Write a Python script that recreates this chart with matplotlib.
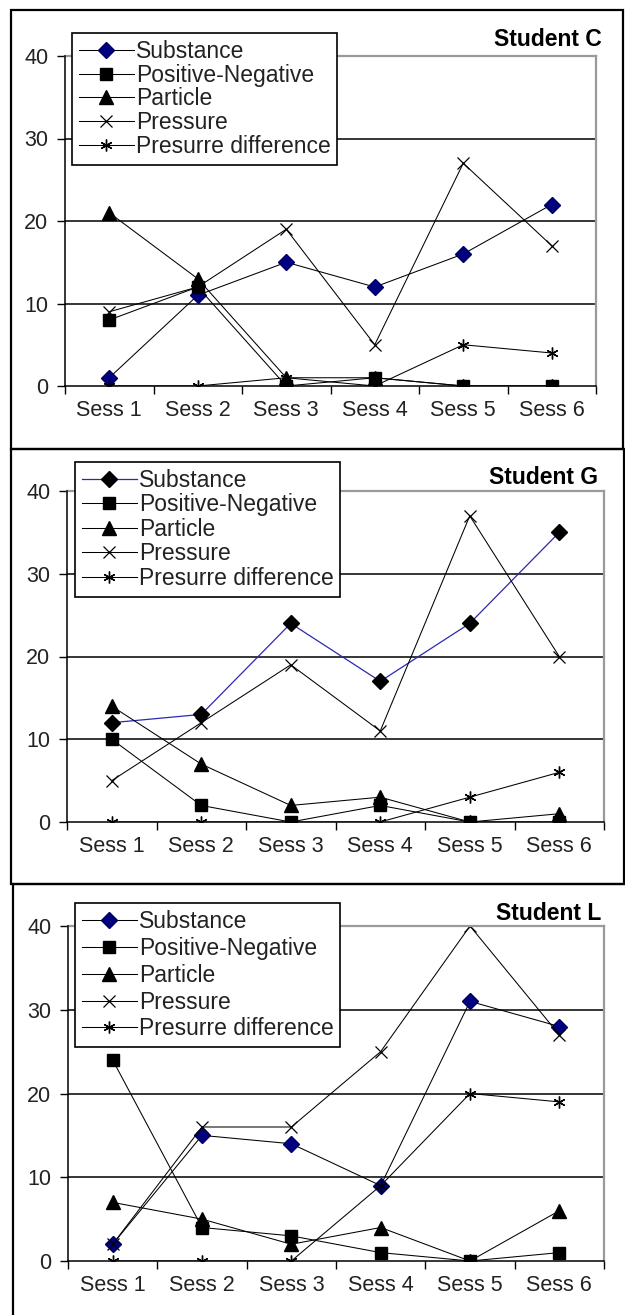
import matplotlib.pyplot as plt
from matplotlib.patches import Rectangle
import numpy as np

plt.rcParams['font.family'] = ['Liberation Sans', 'DejaVu Sans']

W, H = 625, 1315

sessions = ['Sess 1', 'Sess 2', 'Sess 3', 'Sess 4', 'Sess 5', 'Sess 6']
names = ['Substance', 'Positive-Negative', 'Particle', 'Pressure', 'Presurre difference']

# Student C
c_substance = [1, 11, 15, 12, 16, 22]
c_posneg = [8, 12, 0, 1, 0, 0]
c_particle = [21, 13, 1, 1, 0, 0]
c_pressure = [9, 12, 19, 5, 27, 17]
c_pdiff = [0, 0, 1, 0, 5, 4]

# Student G
g_substance = [12, 13, 24, 17, 24, 35]
g_posneg = [10, 2, 0, 2, 0, 0]
g_particle = [14, 7, 2, 3, 0, 1]
g_pressure = [5, 12, 19, 11, 37, 20]
g_pdiff = [0, 0, 0, 0, 3, 6]

# Student L
l_substance = [2, 15, 14, 9, 31, 28]
l_posneg = [24, 4, 3, 1, 0, 1]
l_particle = [7, 5, 2, 4, 0, 6]
l_pressure = [2, 16, 16, 25, 40, 27]
l_pdiff = [0, 0, 0, 9, 20, 19]

fig = plt.figure(figsize=(W / 100, H / 100), dpi=100)


def px_rect(x0, y0, x1, y1):
    return [x0 / W, 1 - y1 / H, (x1 - x0) / W, (y1 - y0) / H]


def panel(plot_box, legend_xy, title, title_xy, data, blue_line=False, lspace=0.2):
    ax = fig.add_axes(px_rect(*plot_box))
    x = np.arange(1, 7)
    subs, pn, part, pres, pdiff = data
    if blue_line:
        ax.plot(x, subs, color='#2a2ab0', lw=0.9, marker='D', ms=8.5,
                mfc='black', mec='black', label=names[0])
    else:
        ax.plot(x, subs, color='black', lw=0.75, marker='D', ms=8.5,
                mfc='#000080', mec='#000060', label=names[0])
    ax.plot(x, pn, color='black', lw=0.75, marker='s', ms=8.5, label=names[1])
    ax.plot(x, part, color='black', lw=0.75, marker='^', ms=9.5, label=names[2])
    ax.plot(x, pres, color='black', lw=0.75, marker='x', ms=8, mew=0.9, label=names[3])
    ax.plot(x, pdiff, color='black', lw=0.75, marker=(6, 2, 0), ms=8.5, mew=1.0,
            label=names[4])

    ax.set_xlim(0.5, 6.5)
    ax.set_ylim(0, 40)
    ax.set_xticks(x)
    ax.set_xticklabels(sessions, fontsize=15.5, color='#222222')
    ax.set_xticks(np.arange(0.5, 7, 1), minor=True)
    ax.tick_params(axis='x', which='major', length=0, pad=10)
    ax.tick_params(axis='x', which='minor', length=6, width=1, direction='out')
    ax.set_yticks([0, 10, 20, 30, 40])
    ax.tick_params(axis='y', length=6, width=1, direction='out', pad=6,
                   labelsize=15.5, labelcolor='#222222')
    for yv in [10, 20, 30]:
        ax.axhline(yv, color='black', lw=1.1, zorder=0)
    for s in ['left', 'bottom']:
        ax.spines[s].set_color('black')
        ax.spines[s].set_linewidth(1.1)
        ax.spines[s].set_zorder(5)
    for s in ['top', 'right']:
        ax.spines[s].set_color('#9a9a9a')
        ax.spines[s].set_linewidth(1.6)

    lx, ly = legend_xy
    leg = ax.legend(loc='upper left', bbox_to_anchor=(lx / W, 1 - ly / H),
                    bbox_transform=fig.transFigure, fontsize=16.5, frameon=True,
                    fancybox=False, edgecolor='black', framealpha=1,
                    handlelength=2.4, handletextpad=0.08, labelspacing=lspace,
                    borderpad=0.3, borderaxespad=0)
    leg.get_frame().set_linewidth(1.2)
    for t in leg.get_texts():
        t.set_color('#222222')
    leg.set_zorder(10)

    tx, ty = title_xy
    fig.text(tx / W, 1 - ty / H, title, ha='right', va='center',
             fontsize=16.5, fontweight='bold')


panel((65, 56, 596, 386), (72, 33), 'Student C', (602, 40),
      (c_substance, c_posneg, c_particle, c_pressure, c_pdiff), lspace=0.03)
panel((67, 491, 604, 822), (75, 462), 'Student G', (598, 478),
      (g_substance, g_posneg, g_particle, g_pressure, g_pdiff), blue_line=True,
      lspace=0.065)
panel((68, 926, 604, 1261), (75, 903), 'Student L', (601, 914),
      (l_substance, l_posneg, l_particle, l_pressure, l_pdiff), lspace=0.17)

# panel frames
for (x0, y0, x1, y1) in [(11, 10, 623, 449), (11, 449, 624, 884), (13, 884, 640, 1330)]:
    fig.add_artist(Rectangle((x0 / W, 1 - y1 / H), (x1 - x0) / W, (y1 - y0) / H,
                             transform=fig.transFigure, fill=False,
                             edgecolor='black', lw=1.6))

fig.savefig('out.png', dpi=100)
